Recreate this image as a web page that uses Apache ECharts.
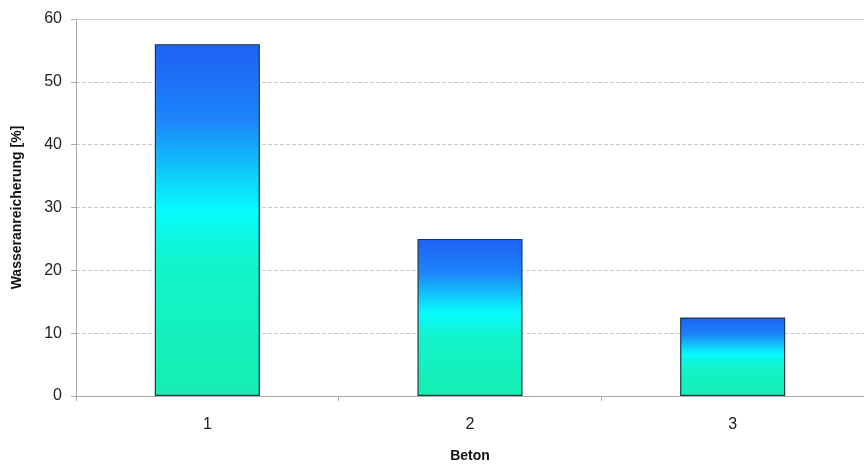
<!DOCTYPE html>
<html><head><meta charset="utf-8">
<script src="https://cdn.jsdelivr.net/npm/echarts@6/dist/echarts.min.js"></script>
<style>html,body{margin:0;padding:0;background:#fff}#c{width:864px;height:468px}</style>
</head><body><div id="c"></div>
<script>
const categories = ['1', '2', '3'];
const values = [56, 25, 12.5];
const yTicks = [0, 60, 10]; // min, max, interval

const chart = echarts.init(document.getElementById('c'));
const grad = new echarts.graphic.LinearGradient(0, 0, 0, 1, [
  {offset: 0, color: '#2060f6'},
  {offset: 0.22, color: '#1c86fa'},
  {offset: 0.47, color: '#06fbfc'},
  {offset: 0.62, color: '#12f4cc'},
  {offset: 1, color: '#16eeb2'}
]);
chart.setOption({
  animation: false,
  grid: {left: 76, width: 795, top: 19, height: 379},
  xAxis: [{
    type: 'category', data: categories,
    name: 'Beton', nameLocation: 'middle', nameGap: 53,
    nameTextStyle: {fontFamily: 'Liberation Sans', fontWeight: 'bold', fontSize: 14, color: '#111'},
    axisLine: {lineStyle: {color: '#aaa', width: 1}},
    axisTick: {show: true, length: 5, lineStyle: {color: '#aaa'}},
    axisLabel: {fontFamily: 'Liberation Sans', fontSize: 16, color: '#222', margin: 21}
  }, {
    type: 'category', data: categories, position: 'top',
    axisLine: {show: true, lineStyle: {color: '#ccc'}},
    axisTick: {show: false}, axisLabel: {show: false}
  }],
  yAxis: {
    type: 'value', min: yTicks[0], max: yTicks[1], interval: yTicks[2],
    name: 'Wasseranreicherung [%]', nameLocation: 'middle', nameGap: 52, nameRotate: 90,
    nameTextStyle: {fontFamily: 'Liberation Sans', fontWeight: 'bold', fontSize: 14, color: '#111'},
    axisLine: {show: true, lineStyle: {color: '#aaa'}},
    axisTick: {show: true, length: 5, lineStyle: {color: '#aaa'}},
    axisLabel: {fontFamily: 'Liberation Sans', fontSize: 16, color: '#222', margin: 14},
    splitLine: {show: true, lineStyle: {color: '#ccc', type: [4, 2]}}
  },
  series: [{
    type: 'bar', data: values, barWidth: '40%',
    itemStyle: {color: grad, borderColor: '#1c3a48', borderWidth: 1.2}
  }]
});
</script></body></html>
